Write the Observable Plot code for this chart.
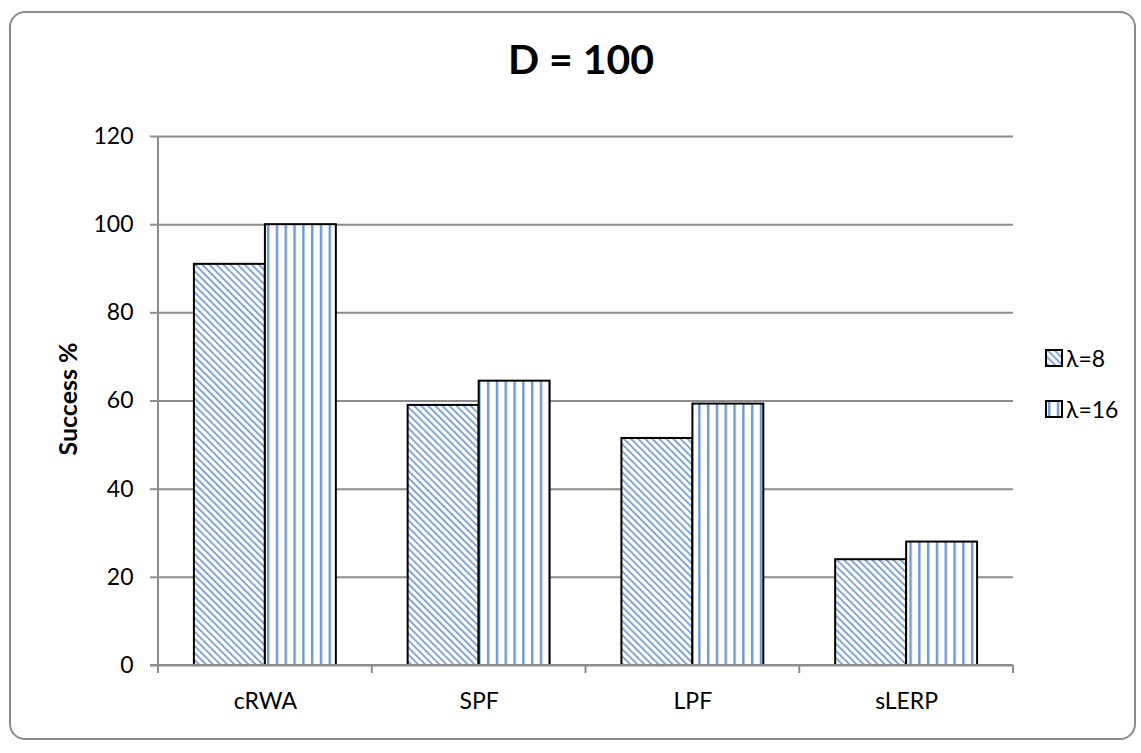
<!DOCTYPE html>
<html>
<head>
<meta charset="utf-8">
<script src="https://cdn.jsdelivr.net/npm/d3@7"></script>
<script src="https://cdn.jsdelivr.net/npm/@observablehq/plot@0.6"></script>
<style>
  html, body { margin: 0; padding: 0; background: #fff; }
  #wrap { position: relative; width: 1141px; height: 753px; font-family: Lato, "Open Sans", sans-serif; overflow: hidden; }
  #border { position: absolute; left: 9px; top: 11px; width: 1127px; height: 729px; border: 2px solid #8a8a8a; border-radius: 16px; box-sizing: border-box; }
  #title { position: absolute; left: 0; width: 1162px; top: 35px; text-align: center; font-size: 41px; line-height: 48px; font-weight: bold; color: #000; }
  #chart { position: absolute; left: 0; top: 0; }
  #legend { position: absolute; left: 1045px; top: 344px; font-size: 23px; color: #000; }
  .li { display: flex; align-items: center; height: 28px; margin-bottom: 23px; }
  .li svg { margin-right: 3px; }
</style>
</head>
<body>
<div id="wrap">
  <div id="border"></div>
  <div id="chart"></div>
  <div id="title"></div>
  <div id="legend"></div>
</div>
<script>
const title = "D = 100";
const yLabel = "Success %";
const categories = ["cRWA", "SPF", "LPF", "sLERP"];
const seriesLabels = ["λ=8", "λ=16"];
const lambda8 = [91, 59, 51.5, 24];
const lambda16 = [100, 64.5, 59.3, 28];
const yTicks = [0, 20, 40, 60, 80, 100, 120];

const data8 = categories.map((c, i) => ({cat: c, v: lambda8[i]}));
const data16 = categories.map((c, i) => ({cat: c, v: lambda16[i]}));

const diagColor = "#6f98d2";
const vertColor = "#6a98d4";

function patternDefs(prefix) {
  return `<defs>
    <pattern id="${prefix}diag" patternUnits="userSpaceOnUse" width="5" height="5" patternTransform="rotate(-45)">
      <rect width="5" height="5" fill="#fff"/>
      <rect x="0" y="0" width="1.7" height="5" fill="${diagColor}"/>
    </pattern>
    <pattern id="${prefix}vert" patternUnits="userSpaceOnUse" width="8.8" height="10">
      <rect width="8.8" height="10" fill="#fff"/>
      <rect x="3" y="0" width="2.4" height="10" fill="${vertColor}"/>
    </pattern>
  </defs>`;
}

document.getElementById("title").textContent = title;

const gray = "#8c8c8c";

const chart = Plot.plot({
  width: 1141,
  height: 753,
  marginTop: 136,
  marginBottom: 88,
  marginLeft: 158,
  marginRight: 128,
  style: {fontFamily: "Lato, 'Open Sans', sans-serif", fontSize: "23px", color: "#000", background: "transparent"},
  x: {domain: categories, paddingInner: 0.336, paddingOuter: 0.168, round: false, label: null},
  y: {domain: [0, 120], label: null},
  marks: [
    () => {
      const g = d3.create("svg:g");
      g.html(patternDefs("p"));
      return g.node();
    },
    Plot.gridY(yTicks, {stroke: gray, strokeOpacity: 1, strokeWidth: 2}),
    Plot.axisY(yTicks, {tickSize: 8, tickPadding: 17, stroke: gray, strokeWidth: 2, fontSize: 23, label: null}),
    Plot.text([yLabel], {frameAnchor: "left", dx: -90, dy: -2, rotate: -90, fontWeight: "bold", fontSize: 25, textAnchor: "middle"}),
    Plot.axisX({tickSize: 0, tickPadding: 27, fontSize: 23, label: null}),
    Plot.barY(data8, {x: "cat", y: "v", fill: "url(#pdiag)", stroke: "#000", strokeWidth: 2, insetRight: 71}),
    Plot.barY(data16, {x: "cat", y: "v", fill: "url(#pvert)", stroke: "#000", strokeWidth: 2, insetLeft: 71}),
    (index, scales, values, dims) => {
      const x = scales.x, y = scales.y;
      const step = x(categories[1]) - x(categories[0]);
      const bw = step * (1 - 0.336);
      const pad = (step - bw) / 2;
      const g = d3.create("svg:g").attr("stroke", gray).attr("stroke-width", 2);
      const left = dims.marginLeft, right = dims.width - dims.marginRight;
      const y0 = y(0);
      g.append("line").attr("x1", left).attr("x2", left).attr("y1", y(120)).attr("y2", y0);
      g.append("line").attr("x1", left - 8).attr("x2", right).attr("y1", y0).attr("y2", y0);
      const bounds = categories.map(c => x(c) - pad).concat([x(categories[categories.length - 1]) + bw + pad]);
      for (const b of bounds) {
        g.append("line").attr("x1", b).attr("x2", b).attr("y1", y0).attr("y2", y0 + 8);
      }
      return g.node();
    }
  ]
});
document.getElementById("chart").appendChild(chart);

const legend = document.getElementById("legend");
const fills = ["ldiag", "lvert"];
seriesLabels.forEach((s, i) => {
  const item = document.createElement("div");
  item.className = "li";
  item.innerHTML = `<svg width="18" height="18">${patternDefs("l")}<rect x="1" y="1" width="16" height="16" fill="url(#${fills[i]})" stroke="#000" stroke-width="2"/></svg><span>${s}</span>`;
  legend.appendChild(item);
});
</script>
</body>
</html>
